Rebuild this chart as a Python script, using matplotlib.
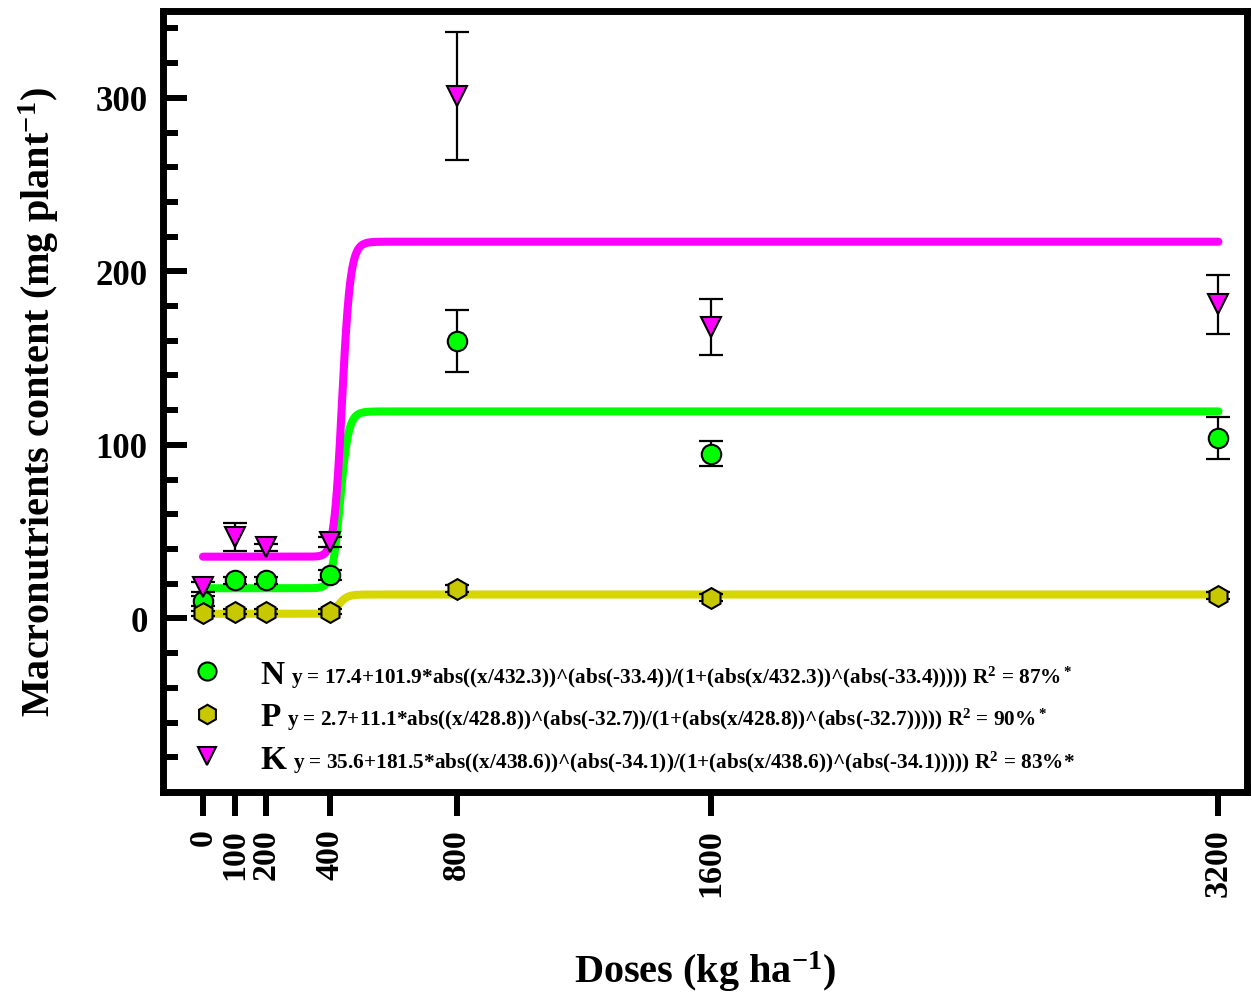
import numpy as np
import matplotlib.pyplot as plt
from matplotlib.ticker import FixedLocator
from matplotlib.lines import Line2D

plt.rcParams['font.family'] = 'Liberation Serif'
plt.rcParams['font.weight'] = 'bold'
plt.rcParams['axes.labelweight'] = 'bold'
plt.rcParams['mathtext.fontset'] = 'custom'
plt.rcParams['mathtext.rm'] = 'Liberation Serif:bold'
plt.rcParams['mathtext.it'] = 'Liberation Serif:bold'
plt.rcParams['mathtext.bf'] = 'Liberation Serif:bold'
plt.rcParams['mathtext.default'] = 'rm'

# ===== DATA =====
doses = [0, 100, 200, 400, 800, 1600, 3200]
n_mean = [10, 22, 22, 25, 160, 95, 104]
n_err = [3, 2, 2, 3, 18, 7, 12]
p_mean = [3, 4, 4, 4, 17, 12, 13]
p_err = [1.5, 1.5, 1.5, 1.5, 2, 2, 2]
k_mean = [18, 47, 41, 44, 301, 168, 181]
k_err = [3, 8, 2, 3, 37, 16, 17]

# fitted parameters (a, b, c, d): y = a + b*|x/c|^|d| / (1 + |x/c|^|d|)
n_fit = (17.4, 101.9, 432.3, -33.4)
p_fit = (2.7, 11.1, 428.8, -32.7)
k_fit = (35.6, 181.5, 438.6, -34.1)

n_eq = "y = 17.4+101.9*abs((x/432.3))^(abs(-33.4))/(1+(abs(x/432.3))^(abs(-33.4))))) R$^2$ = 87%$^*$"
p_eq = "y = 2.7+11.1*abs((x/428.8))^(abs(-32.7))/(1+(abs(x/428.8))^(abs(-32.7))))) R$^2$ = 90%$^*$"
k_eq = "y = 35.6+181.5*abs((x/438.6))^(abs(-34.1))/(1+(abs(x/438.6))^(abs(-34.1))))) R$^2$ = 83%*"

green = '#00ff00'
magenta = '#ff00ff'
olive_line = '#d6d600'
olive_mark = '#c8c800'


def sigmoid(x, prm):
    a, b, c, d = prm
    t = np.abs(x / c) ** abs(d)
    return a + b * t / (1 + t)


x_fit = np.linspace(0, 3200, 6401)

fig = plt.figure(figsize=(12.52, 9.95), dpi=100)
ax = fig.add_axes([0.1302, 0.2030, 0.8658, 0.7849])

# ===== CURVES =====
for prm, col in [(n_fit, green), (p_fit, olive_line), (k_fit, magenta)]:
    ax.plot(x_fit, sigmoid(x_fit, prm), color=col, lw=5.8,
            solid_capstyle='round', zorder=2)

# ===== POINTS =====
series = [
    (n_mean, n_err, 'o', green, 14),
    (p_mean, p_err, 'h', olive_mark, 15),
    (k_mean, k_err, 'v', magenta, 14),
]
handles = []
for mean, err, mk, col, ms in series:
    ax.errorbar(doses, mean, yerr=err, fmt='none', ecolor='black',
                elinewidth=1.6, capsize=8.5, capthick=1.6, zorder=3)
    ax.plot(doses, mean, ls='none', marker=mk, ms=ms, mfc=col,
            mec='black', mew=1.5, zorder=4)
    handles.append(Line2D([], [], ls='none', marker=mk, ms=ms - 1,
                          mfc=col, mec='black', mew=1.5))

# ===== AXES =====
ax.set_xlim(-126, 3290)
ax.set_ylim(-100, 350)
ax.xaxis.set_major_locator(FixedLocator(doses))
ax.set_xticklabels([str(d) for d in doses], rotation=90)
ax.yaxis.set_major_locator(FixedLocator([0, 100, 200, 300]))
ax.yaxis.set_minor_locator(FixedLocator([v for v in range(-100, 350, 20)
                                         if v % 100 != 0]))
ax.tick_params(axis='x', direction='out', length=17, width=4.3,
               pad=9, labelsize=24.5)
ax.tick_params(axis='y', which='major', direction='in', length=17,
               width=4.3, pad=11, labelsize=25)
ax.tick_params(axis='y', which='minor', direction='in', length=11,
               width=4.3)
ax.tick_params(axis='x', which='minor', bottom=False)
for sp in ax.spines.values():
    sp.set_linewidth(5)

ax.set_xlabel('Doses (kg ha$^{-1}$)', fontsize=29)
ax.set_ylabel('Macronutrients content (mg plant$^{-1}$)', fontsize=29)
ax.xaxis.set_label_coords(0.5, -0.200)
ax.yaxis.set_label_coords(-0.094, 0.5)

# ===== LEGEND =====
leg = ax.legend(handles, ['N', 'P', 'K'], loc='lower left',
                bbox_to_anchor=(0.025, 0.022), frameon=False, fontsize=24,
                handlelength=1.0, handletextpad=1.1, labelspacing=0.35,
                borderpad=0, borderaxespad=0)

fig.canvas.draw()
renderer = fig.canvas.get_renderer()
inv = ax.transAxes.inverted()
for txt, eq in zip(leg.get_texts(), [n_eq, p_eq, k_eq]):
    bb = txt.get_window_extent(renderer)
    _, _, desc = renderer.get_text_width_height_descent(
        'lp', txt.get_fontproperties(), ismath=False)
    xa, ya = inv.transform((bb.x1 + 7, bb.y0 + desc))
    ax.text(xa, ya, eq, transform=ax.transAxes, fontsize=15.3,
            va='baseline', ha='left')

fig.savefig('out.png', dpi=100)
